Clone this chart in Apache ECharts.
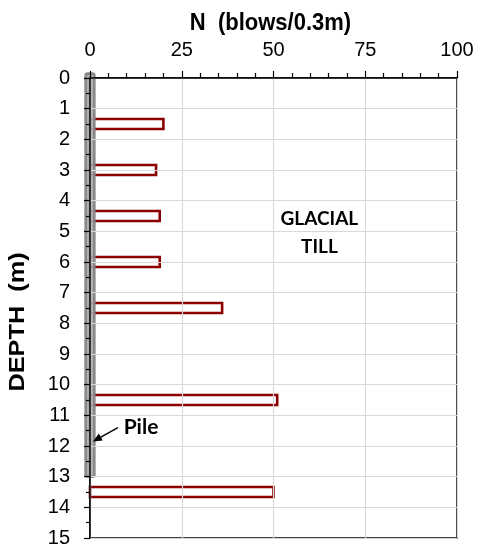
<!DOCTYPE html>
<html>
<head>
<meta charset="utf-8">
<script src="https://cdn.jsdelivr.net/npm/echarts@6/dist/echarts.min.js"></script>
<style>
  html, body { margin: 0; padding: 0; background: #fff; }
  #chart { width: 478px; height: 548px; }
</style>
</head>
<body>
<div id="chart"></div>
<script>
// SPT record: sample depth (m) and blow count N per 0.3 m
const depths = [1.5, 3.0, 4.5, 6.0, 7.5, 10.5, 13.5];
const blows = [20, 18, 19, 19, 36, 51, 50];
// Pile embedded from ground surface to tip depth (m)
const pileTop = 0;
const pileTip = 13;
// Axis tick labels
const xTicks = [0, 25, 50, 75, 100];
const yTicks = [0, 1, 2, 3, 4, 5, 6, 7, 8, 9, 10, 11, 12, 13, 14, 15];

const chart = echarts.init(document.getElementById('chart'), null, { renderer: 'canvas' });

const sptData = depths.map((d, i) => [blows[i], d]);
const pileData = [[pileTop, pileTip]];

const axisFont = 'Arial, "Liberation Sans", sans-serif';
const noteFont = 'Lato, "Open Sans", sans-serif';

const option = {
  animation: false,
  backgroundColor: '#fff',
  grid: {
    left: 90, right: 21, top: 78, bottom: 9,
    show: true, borderColor: '#000', borderWidth: 1.5, backgroundColor: 'transparent'
  },
  xAxis: {
    type: 'value', position: 'top',
    min: xTicks[0], max: xTicks[xTicks.length - 1], interval: 25,
    axisLine: { show: true, lineStyle: { color: '#000', width: 1.5 } },
    axisTick: { show: true, inside: false, length: 7, lineStyle: { color: '#000', width: 1.2 } },
    minorTick: { show: true, splitNumber: 5, length: 5, lineStyle: { color: '#000', width: 1.2 } },
    axisLabel: { fontFamily: axisFont, fontSize: 20, color: '#000', margin: 18 },
    splitLine: { show: true, lineStyle: { color: '#d9d9d9', width: 1.2 } },
    z: 5
  },
  yAxis: {
    type: 'value', inverse: true,
    min: yTicks[0], max: yTicks[yTicks.length - 1], interval: 1,
    axisLine: { show: true, onZero: false, lineStyle: { color: '#000', width: 1.5 } },
    axisTick: { show: true, inside: false, length: 6, lineStyle: { color: '#000', width: 1.2 } },
    minorTick: { show: true, splitNumber: 2, length: 4, lineStyle: { color: '#000', width: 1.2 } },
    axisLabel: { fontFamily: axisFont, fontSize: 20, color: '#000', margin: 20 },
    splitLine: { show: true, lineStyle: { color: '#d9d9d9', width: 1.2 } },
    z: 5
  },
  series: [
    {
      // SPT blow-count bars, one per sampling interval
      type: 'custom',
      clip: false,
      z: 2,
      data: sptData,
      renderItem: function (params, api) {
        const n = api.value(0), d = api.value(1);
        const half = 0.165;
        const p0 = api.coord([0, d - half]);
        const p1 = api.coord([n, d + half]);
        return {
          type: 'rect',
          shape: { x: p0[0], y: p0[1], width: p1[0] - p0[0], height: p1[1] - p0[1] },
          style: { fill: '#fff', stroke: '#8b0000', lineWidth: 2.6 }
        };
      }
    },
    {
      // Pile shaft drawn down the depth axis
      type: 'custom',
      clip: false,
      z: 3,
      data: pileData,
      renderItem: function (params, api) {
        const top = api.value(0), tip = api.value(1);
        const p0 = api.coord([-1.2, top - 0.15]);
        const p1 = api.coord([1.2, tip]);
        return {
          type: 'rect',
          shape: { x: p0[0], y: p0[1], width: p1[0] - p0[0], height: p1[1] - p0[1], r: 2 },
          style: { fill: '#a6a6a6', stroke: '#7f7f7f', lineWidth: 2.5, opacity: 0.9 }
        };
      }
    }
  ]
};

chart.setOption(option);

// Annotations placed in data space
const pt = (x, y) => chart.convertToPixel({ xAxisIndex: 0, yAxisIndex: 0 }, [x, y]);
const arrowTail = pt(7.6, 11.4);
const arrowHead = pt(0.8, 11.85);
const ang = Math.atan2(arrowHead[1] - arrowTail[1], arrowHead[0] - arrowTail[0]);
const hl = 9, hw = 4;
const bx = arrowHead[0] - hl * Math.cos(ang), by = arrowHead[1] - hl * Math.sin(ang);
const pileLabel = pt(13.9, 11.4);
const tillLine1 = pt(62.5, 4.59);
const tillLine2 = pt(62.5, 5.5);
const gridMidX = (pt(xTicks[0], 0)[0] + pt(xTicks[xTicks.length - 1], 0)[0]) / 2;

chart.setOption({
  graphic: [
    {
      // horizontal axis title
      type: 'text', z: 10, x: gridMidX - 3, y: 23, scaleY: 1.1,
      style: { text: 'N  (blows/0.3m)', font: 'bold 22px ' + axisFont, fill: '#000', align: 'center', verticalAlign: 'middle' }
    },
    {
      // depth axis title
      type: 'text', z: 10, x: 18, y: 322, rotation: Math.PI / 2, scaleX: 1.15,
      style: { text: 'DEPTH  (m)', font: 'bold 22px ' + axisFont, fill: '#000', align: 'center', verticalAlign: 'middle' }
    },
    {
      type: 'line', z: 10,
      shape: { x1: arrowTail[0], y1: arrowTail[1], x2: bx, y2: by },
      style: { stroke: '#000', lineWidth: 1.5 }
    },
    {
      type: 'polygon', z: 10,
      shape: { points: [
        arrowHead,
        [bx + hw * Math.sin(ang), by - hw * Math.cos(ang)],
        [bx - hw * Math.sin(ang), by + hw * Math.cos(ang)]
      ] },
      style: { fill: '#000' }
    },
    {
      type: 'text', z: 10, x: pileLabel[0], y: pileLabel[1],
      style: { text: 'Pile', font: 'bold 21px ' + noteFont, fill: '#000', align: 'center', verticalAlign: 'middle' }
    },
    {
      type: 'text', z: 10, x: tillLine1[0], y: tillLine1[1],
      style: { text: 'GLACIAL', font: 'bold 19px ' + noteFont, fill: '#000', align: 'center', verticalAlign: 'middle' }
    },
    {
      type: 'text', z: 10, x: tillLine2[0], y: tillLine2[1],
      style: { text: 'TILL', font: 'bold 19px ' + noteFont, fill: '#000', align: 'center', verticalAlign: 'middle' }
    }
  ]
});
</script>
</body>
</html>
